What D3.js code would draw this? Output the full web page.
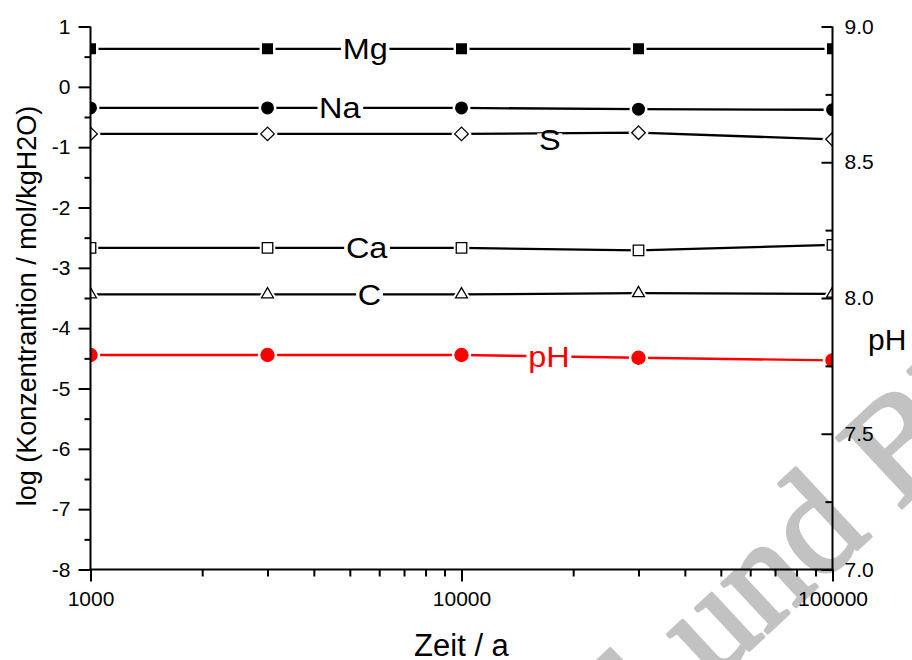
<!DOCTYPE html>
<html>
<head>
<meta charset="utf-8">
<script src="https://cdn.jsdelivr.net/npm/d3@7"></script>
<style>
  html, body { margin: 0; padding: 0; background: #fff; }
  svg { display: block; }
  text { font-family: "Liberation Sans", Arial, sans-serif; }
</style>
</head>
<body>
<svg id="chart" width="912" height="660"></svg>
<script>
// ---------------- data ----------------
const times = [1000, 3000, 10000, 30000, 100000];
const mgValues = [0.63, 0.63, 0.63, 0.63, 0.63];
const naValues = [-0.35, -0.35, -0.35, -0.37, -0.38];
const sValues  = [-0.78, -0.78, -0.78, -0.76, -0.87];
const caValues = [-2.67, -2.67, -2.67, -2.71, -2.62];
const cValues  = [-3.44, -3.44, -3.44, -3.42, -3.43];
const phValues = [7.79, 7.79, 7.79, 7.78, 7.77];

const seriesNames = ["Mg", "Na", "S", "Ca", "C", "pH"];
// time at which each in-line label sits
const labelTimes = [5500, 4700, 17300, 5550, 5650, 17200];

const xTickLabels = ["1000", "10000", "100000"];
const leftTickValues = [-8, -7, -6, -5, -4, -3, -2, -1, 0, 1];
const rightTickValues = [7.0, 7.5, 8.0, 8.5, 9.0];

const xTitle = "Zeit / a";
const yTitle = "log (Konzentrantion / mol/kgH2O)";
const y2Title = "pH";

// ---------------- layout ----------------
const svg = d3.select("#chart");
const L = 90.5, R = 832.5, T = 26.5, B = 569.5;

const x = d3.scaleLog().domain([1000, 100000]).range([L, R]);
const y = d3.scaleLinear().domain([-8, 1]).range([B, T]);
const y2 = d3.scaleLinear().domain([7, 9]).range([B, T]);

// ---------------- watermark ----------------
const wm = svg.append("g")
  .attr("transform", "translate(792,610) rotate(-43)")
  .attr("fill", "#c2c2c2")
  .attr("stroke", "#c2c2c2")
  .attr("stroke-width", 3.5)
  .attr("stroke-linejoin", "round");
const wmFont = sel => sel.style("font-family", "'Liberation Serif', 'Times New Roman', serif").style("font-size", "146px");
wm.append("text").attr("text-anchor", "middle").call(wmFont).text("und");
wm.append("text").attr("x", -146).attr("text-anchor", "end").call(wmFont).text("BGE");
wm.append("text").attr("x", 146).attr("text-anchor", "start").call(wmFont).text("BMU");

// ---------------- series ----------------
const symbols = {
  Mg: { type: d3.symbolSquare, size: 121, fill: "#000", stroke: "none" },
  Na: { type: d3.symbolCircle, size: Math.PI * 42, fill: "#000", stroke: "none" },
  S:  { type: d3.symbolDiamond2, size: 118, fill: "#fff", stroke: "#000" },
  Ca: { type: d3.symbolSquare, size: 110, fill: "#fff", stroke: "#000" },
  C:  { type: d3.symbolTriangle2, size: 100, fill: "#fff", stroke: "#000" },
  pH: { type: d3.symbolCircle, size: Math.PI * 52, fill: "#ff0000", stroke: "none" }
};
const series = [
  { name: "Mg", values: mgValues, scale: y, color: "#000" },
  { name: "Na", values: naValues, scale: y, color: "#000" },
  { name: "S",  values: sValues,  scale: y, color: "#000" },
  { name: "Ca", values: caValues, scale: y, color: "#000" },
  { name: "C",  values: cValues,  scale: y, color: "#000" },
  { name: "pH", values: phValues, scale: y2, color: "#ff0000" }
];

svg.append("defs").append("clipPath").attr("id", "plotclip")
  .append("rect").attr("x", L).attr("y", T - 20).attr("width", R - L).attr("height", B - T + 20);

const plot = svg.append("g").attr("clip-path", "url(#plotclip)");

series.forEach((s, si) => {
  const pts = times.map((t, i) => [x(t), s.scale(s.values[i])]);
  plot.append("path")
    .attr("d", d3.line()(pts))
    .attr("fill", "none")
    .attr("stroke", s.color)
    .attr("stroke-width", 2.3);

  const sym = symbols[s.name];
  const gen = d3.symbol().type(sym.type).size(sym.size);
  plot.selectAll(null).data(pts).enter().append("path")
    .attr("d", gen)
    .attr("transform", d => `translate(${d[0]},${d[1]})`)
    .attr("fill", "#fff")
    .attr("stroke", "#fff")
    .attr("stroke-width", 5);
  plot.selectAll(null).data(pts).enter().append("path")
    .attr("d", gen)
    .attr("transform", d => `translate(${d[0]},${d[1]})`)
    .attr("fill", sym.fill)
    .attr("stroke", sym.stroke)
    .attr("stroke-width", 1.3);

  // in-line label
  const lx = x(labelTimes[si]);
  const ly = d3.scaleLinear().domain(times.map(t => x(t))).range(s.values.map(v => s.scale(v)))(lx);
  const g = svg.append("g").attr("transform", `translate(${lx},${ly + (s.name === "S" ? 6 : 0)}) scale(1.12,1)`);
  const txt = g.append("text")
    .attr("text-anchor", "middle")
    .attr("dy", "0.36em")
    .style("font-size", "29px")
    .attr("fill", s.color)
    .text(s.name);
  const bb = txt.node().getBBox();
  g.insert("rect", "text")
    .attr("x", bb.x - 1.5).attr("y", -6)
    .attr("width", bb.width + 3).attr("height", 12)
    .attr("fill", "#fff");
});

// ---------------- axes ----------------
const axisStyle = sel => {
  sel.select(".domain").remove();
  sel.selectAll("line").attr("stroke", "#000").attr("stroke-width", 2);
  sel.selectAll("text").style("font-size", "21px").attr("fill", "#000")
    .style("font-family", "'Liberation Sans', Arial, sans-serif");
};

const xMinor = [];
[1000, 10000].forEach(dec => { for (let k = 2; k <= 9; k++) xMinor.push(dec * k); });
const xMajor = xTickLabels.map(Number);

svg.append("g").attr("transform", `translate(0,${B})`)
  .call(d3.axisBottom(x).tickValues(xMinor).tickSize(7).tickFormat(""))
  .call(axisStyle);
svg.append("g").attr("transform", `translate(0,${B})`)
  .call(d3.axisBottom(x).tickValues(xMajor).tickSize(12).tickPadding(10)
    .tickFormat((d, i) => xTickLabels[i]))
  .call(axisStyle);

// left axis
const leftMinor = d3.range(-7.5, 1, 1);
svg.append("g").attr("transform", `translate(${L},0)`)
  .call(d3.axisLeft(y).tickValues(leftMinor).tickSize(6).tickFormat(""))
  .call(axisStyle);
svg.append("g").attr("transform", `translate(${L},0)`)
  .call(d3.axisLeft(y).tickValues(leftTickValues).tickSize(12).tickPadding(8)
    .tickFormat(d => String(d)))
  .call(axisStyle);

// right axis (ticks inward, labels outside)
const rightMinor = [7.25, 7.75, 8.25, 8.75];
svg.append("g").attr("transform", `translate(${R},0)`)
  .call(d3.axisLeft(y2).tickValues(rightMinor).tickSize(7).tickFormat(""))
  .call(axisStyle);
svg.append("g").attr("transform", `translate(${R},0)`)
  .call(d3.axisLeft(y2).tickValues(rightTickValues).tickSize(11).tickFormat(""))
  .call(axisStyle);
svg.append("g").attr("transform", `translate(${R},0)`)
  .call(d3.axisRight(y2).tickValues(rightTickValues).tickSize(0).tickPadding(12)
    .tickFormat(d => d.toFixed(1)))
  .call(axisStyle);

// axis lines
svg.append("line").attr("x1", L).attr("x2", L).attr("y1", T).attr("y2", B + 1)
  .attr("stroke", "#000").attr("stroke-width", 2);
svg.append("line").attr("x1", R).attr("x2", R).attr("y1", T).attr("y2", B + 1)
  .attr("stroke", "#000").attr("stroke-width", 2);
svg.append("line").attr("x1", L - 1).attr("x2", R + 1).attr("y1", B).attr("y2", B)
  .attr("stroke", "#000").attr("stroke-width", 2);

// titles
svg.append("text")
  .attr("x", (L + R) / 2).attr("y", 656)
  .attr("text-anchor", "middle")
  .style("font-size", "31px")
  .text(xTitle);

svg.append("text")
  .attr("transform", `translate(36,${(T + B) / 2 + 8}) rotate(-90)`)
  .attr("text-anchor", "middle")
  .style("font-size", "27px")
  .text(yTitle);

svg.append("text")
  .attr("x", 868).attr("y", 350)
  .style("font-size", "30px")
  .text(y2Title);
</script>
</body>
</html>
